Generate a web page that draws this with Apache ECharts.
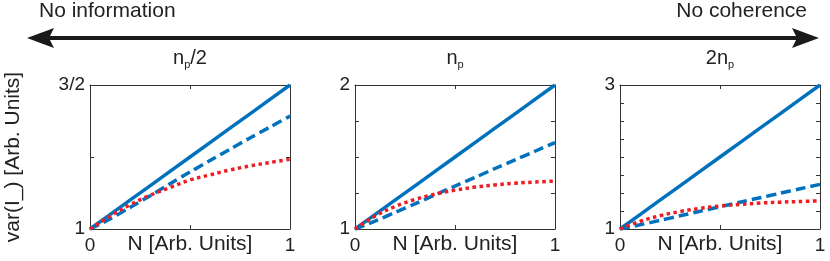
<!DOCTYPE html>
<html>
<head>
<meta charset="utf-8">
<script src="https://cdn.jsdelivr.net/npm/echarts@6/dist/echarts.min.js"></script>
<style>
html,body{margin:0;padding:0;background:#fff;}
#chart{width:830px;height:261px;}
</style>
</head>
<body>
<div id="chart"></div>
<script>
// ---- data ----
const N = [0, 0.1, 0.2, 0.3, 0.4, 0.5, 0.6, 0.7, 0.8, 0.9, 1.0];

const solid1  = [1, 1.05, 1.10, 1.15, 1.20, 1.25, 1.30, 1.35, 1.40, 1.45, 1.50];
const dashed1 = [1, 1.035, 1.075, 1.115, 1.157, 1.198, 1.238, 1.277, 1.316, 1.354, 1.392];
const dotted1 = [1, 1.045, 1.084, 1.117, 1.144, 1.170, 1.188, 1.205, 1.219, 1.231, 1.242];

const solid2  = [1, 1.1, 1.2, 1.3, 1.4, 1.5, 1.6, 1.7, 1.8, 1.9, 2.0];
const dashed2 = [1, 1.055, 1.115, 1.175, 1.237, 1.298, 1.358, 1.42, 1.48, 1.54, 1.60];
const dotted2 = [1, 1.089, 1.156, 1.205, 1.242, 1.27, 1.291, 1.306, 1.318, 1.326, 1.333];

const solid3  = [1, 1.2, 1.4, 1.6, 1.8, 2.0, 2.2, 2.4, 2.6, 2.8, 3.0];
const dashed3 = [1, 1.058, 1.12, 1.183, 1.246, 1.31, 1.372, 1.434, 1.496, 1.558, 1.62];
const dotted3 = [1, 1.106, 1.185, 1.243, 1.287, 1.319, 1.342, 1.36, 1.373, 1.382, 1.39];

const panelTitles = ['n{sub|p}/2', 'n{sub|p}', '2n{sub|p}'];
const yMax = [1.5, 2, 3];
const yTickLabels = [
  {1: '1', 1.5: '3/2'},
  {1: '1', 2: '2'},
  {1: '1', 3: '3'}
];
const xTickLabels = {0: '0', 1: '1'};
const xName = 'N [Arb. Units]';
const yName = 'var(I_) [Arb. Units]';
const leftText = 'No information';
const rightText = 'No coherence';

// ---- layout / style ----
const FONT = 'Liberation Sans, Arial, sans-serif';
const BLUE = '#0072BD';
const RED = '#EE1D23';
const AX = '#333333';
const gridLefts = [90, 355, 620];
const GW = 200, GT = 85, GH = 144;

const pairs = (ys) => N.map((x, i) => [x, ys[i]]);
const panels = [[solid1, dashed1, dotted1], [solid2, dashed2, dotted2], [solid3, dashed3, dotted3]];

const grid = [], xAxis = [], yAxis = [], series = [];
panels.forEach((p, k) => {
  grid.push({left: gridLefts[k], top: GT, width: GW, height: GH, containLabel: false, outerBoundsMode: 'none'});
  const tick = {show: true, inside: true, length: 4, lineStyle: {color: AX, width: 1}};
  const line = {show: true, onZero: false, lineStyle: {color: AX, width: 1}};
  // bottom x
  xAxis.push({
    type: 'value', gridIndex: k, min: 0, max: 1, interval: 0.5, position: 'bottom',
    axisLine: line, axisTick: tick, splitLine: {show: false},
    axisLabel: {show: true, margin: 7, color: '#222', fontFamily: FONT, fontSize: 19,
      formatter: (v) => (xTickLabels[v] !== undefined ? xTickLabels[v] : '')},
    name: xName, nameLocation: 'middle', nameGap: 15, nameMoveOverlap: false,
    nameTextStyle: {color: '#222', fontFamily: FONT, fontSize: 21, verticalAlign: 'middle'}
  });
  // top x (mirror)
  xAxis.push({
    type: 'value', gridIndex: k, min: 0, max: 1, interval: 0.5, position: 'top',
    axisLine: line, axisTick: tick, splitLine: {show: false}, axisLabel: {show: false}
  });
  // left y
  const yl = yTickLabels[k];
  const ya = {
    type: 'value', gridIndex: k, min: 1, max: yMax[k], interval: 0.25, position: 'left',
    axisLine: line, axisTick: tick, splitLine: {show: false},
    axisLabel: {show: true, margin: 5, color: '#222', fontFamily: FONT, fontSize: 19,
      formatter: (v) => (yl[v] !== undefined ? yl[v] : '')}
  };
  if (k === 0) {
    ya.name = yName;
    ya.nameLocation = 'middle';
    ya.nameGap = 66;
    ya.nameRotate = 90;
    ya.nameMoveOverlap = false;
    ya.nameTextStyle = {color: '#222', fontFamily: FONT, fontSize: 21};
  }
  yAxis.push(ya);
  // right y (mirror)
  yAxis.push({
    type: 'value', gridIndex: k, min: 1, max: yMax[k], interval: 0.25, position: 'right',
    axisLine: line, axisTick: tick, splitLine: {show: false}, axisLabel: {show: false}
  });

  const xi = k * 2, yi = k * 2;
  series.push({
    type: 'line', xAxisIndex: xi, yAxisIndex: yi, data: pairs(p[0]), showSymbol: false,
    lineStyle: {color: BLUE, width: 3.5, type: 'solid'}, z: 3, animation: false
  });
  series.push({
    type: 'line', xAxisIndex: xi, yAxisIndex: yi, data: pairs(p[1]), showSymbol: false, smooth: 0.3,
    lineStyle: {color: BLUE, width: 3.5, type: [10, 5], cap: 'butt'}, z: 4, animation: false
  });
  series.push({
    type: 'line', xAxisIndex: xi, yAxisIndex: yi, data: pairs(p[2]), showSymbol: false, smooth: 0.4,
    lineStyle: {color: RED, width: 3.5, type: [3.5, 3.5], cap: 'butt'}, z: 5, animation: false
  });
});

const arrowY = 38;
const graphic = [
  {type: 'line', shape: {x1: 48, y1: arrowY, x2: 798, y2: arrowY}, style: {stroke: '#1a1a1a', lineWidth: 4}},
  {type: 'polygon', shape: {points: [[27, arrowY], [54, arrowY - 10], [49, arrowY], [54, arrowY + 10]]}, style: {fill: '#1a1a1a'}},
  {type: 'polygon', shape: {points: [[819, arrowY], [792, arrowY - 10], [797, arrowY], [792, arrowY + 10]]}, style: {fill: '#1a1a1a'}},
  {type: 'text', left: 39, top: 1, style: {text: leftText, fill: '#222', font: '21px ' + FONT}},
  {type: 'text', right: 23, top: 1, style: {text: rightText, fill: '#222', font: '21px ' + FONT}}
];
panelTitles.forEach((t, k) => {
  graphic.push({
    type: 'text', x: gridLefts[k] + GW / 2, y: 58,
    style: {text: t, fill: '#222', fontFamily: FONT, fontSize: 20, align: 'center', verticalAlign: 'middle',
      rich: {sub: {fontSize: 11, fontFamily: FONT, fill: '#222', padding: [14, 0, 0, 0]}}}
  });
});

const chart = echarts.init(document.getElementById('chart'), null, {renderer: 'canvas'});
chart.setOption({animation: false, backgroundColor: '#fff', grid, xAxis, yAxis, series, graphic});
</script>
</body>
</html>
